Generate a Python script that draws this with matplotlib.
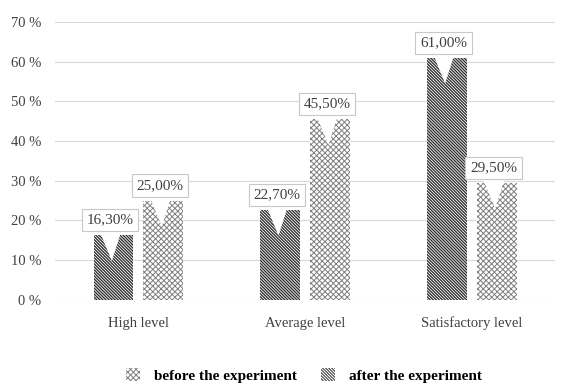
import numpy as np
import matplotlib.pyplot as plt

# data
categories = ['High level', 'Average level', 'Satisfactory level']
after_vals = [16.3, 22.7, 61.0]    # diagonal hatch, left bar
before_vals = [25.0, 45.5, 29.5]   # cross hatch, right bar
yticks = [0, 10, 20, 30, 40, 50, 60, 70]

plt.rcParams['font.family'] = ['Liberation Serif', 'DejaVu Serif']

fig = plt.figure(figsize=(5.63, 3.85), dpi=100)
ax = fig.add_axes([0.098, 0.221, 0.888, 0.722])

x = np.arange(len(categories))
width = 0.24
gap = 0.06

plt.rcParams['hatch.linewidth'] = 0.95
bars_after = ax.bar(x - (width + gap) / 2, after_vals, width, color='white',
                    edgecolor='#2e2e2e', hatch='\\' * 11, linewidth=0,
                    label='after the experiment', zorder=2)
plt.rcParams['hatch.linewidth'] = 0.7
bars_before = ax.bar(x + (width + gap) / 2, before_vals, width, color='white',
                     edgecolor='#808080', hatch='x' * 6, linewidth=0,
                     label='before the experiment', zorder=2)

# callout labels
for bars, vals in [(bars_after, after_vals), (bars_before, before_vals)]:
    for b, v in zip(bars, vals):
        cx = b.get_x() + b.get_width() / 2
        ax.annotate(f'{v:.2f}%'.replace('.', ','), xy=(cx - 0.01, v - 6.5),
                    xytext=(cx - 0.02, v + 3.8), ha='center', va='center',
                    fontsize=11, color='#404040', zorder=5,
                    bbox=dict(boxstyle='square,pad=0.3', fc='white', ec='#c8c8c8', lw=0.8),
                    arrowprops=dict(arrowstyle='wedge,tail_width=1.4,shrink_factor=0.5',
                                    fc='white', ec='none', shrinkA=0, shrinkB=0))

ax.set_ylim(0, 70)
ax.set_xlim(-0.5, 2.5)
ax.set_yticks(yticks)
ax.set_yticklabels([f'{t} %' for t in yticks])
ax.set_xticks(x)
ax.set_xticklabels(categories)
ax.tick_params(axis='both', length=0, labelsize=10.5, colors='#404040')
ax.tick_params(axis='y', pad=10)
ax.tick_params(axis='x', pad=12)
ax.grid(axis='y', color='#d9d9d9', linewidth=0.8, zorder=0)
for s in ax.spines.values():
    s.set_visible(False)

handles = [bars_before, bars_after]
fig.legend(handles, [h.get_label() for h in handles], loc='center',
           bbox_to_anchor=(0.54, 0.025), ncol=2, frameon=False,
           handlelength=0.9, handleheight=0.9, columnspacing=1.6,
           handletextpad=0.9, prop={'weight': 'bold', 'size': 11})

plt.savefig('out.png', dpi=100)
